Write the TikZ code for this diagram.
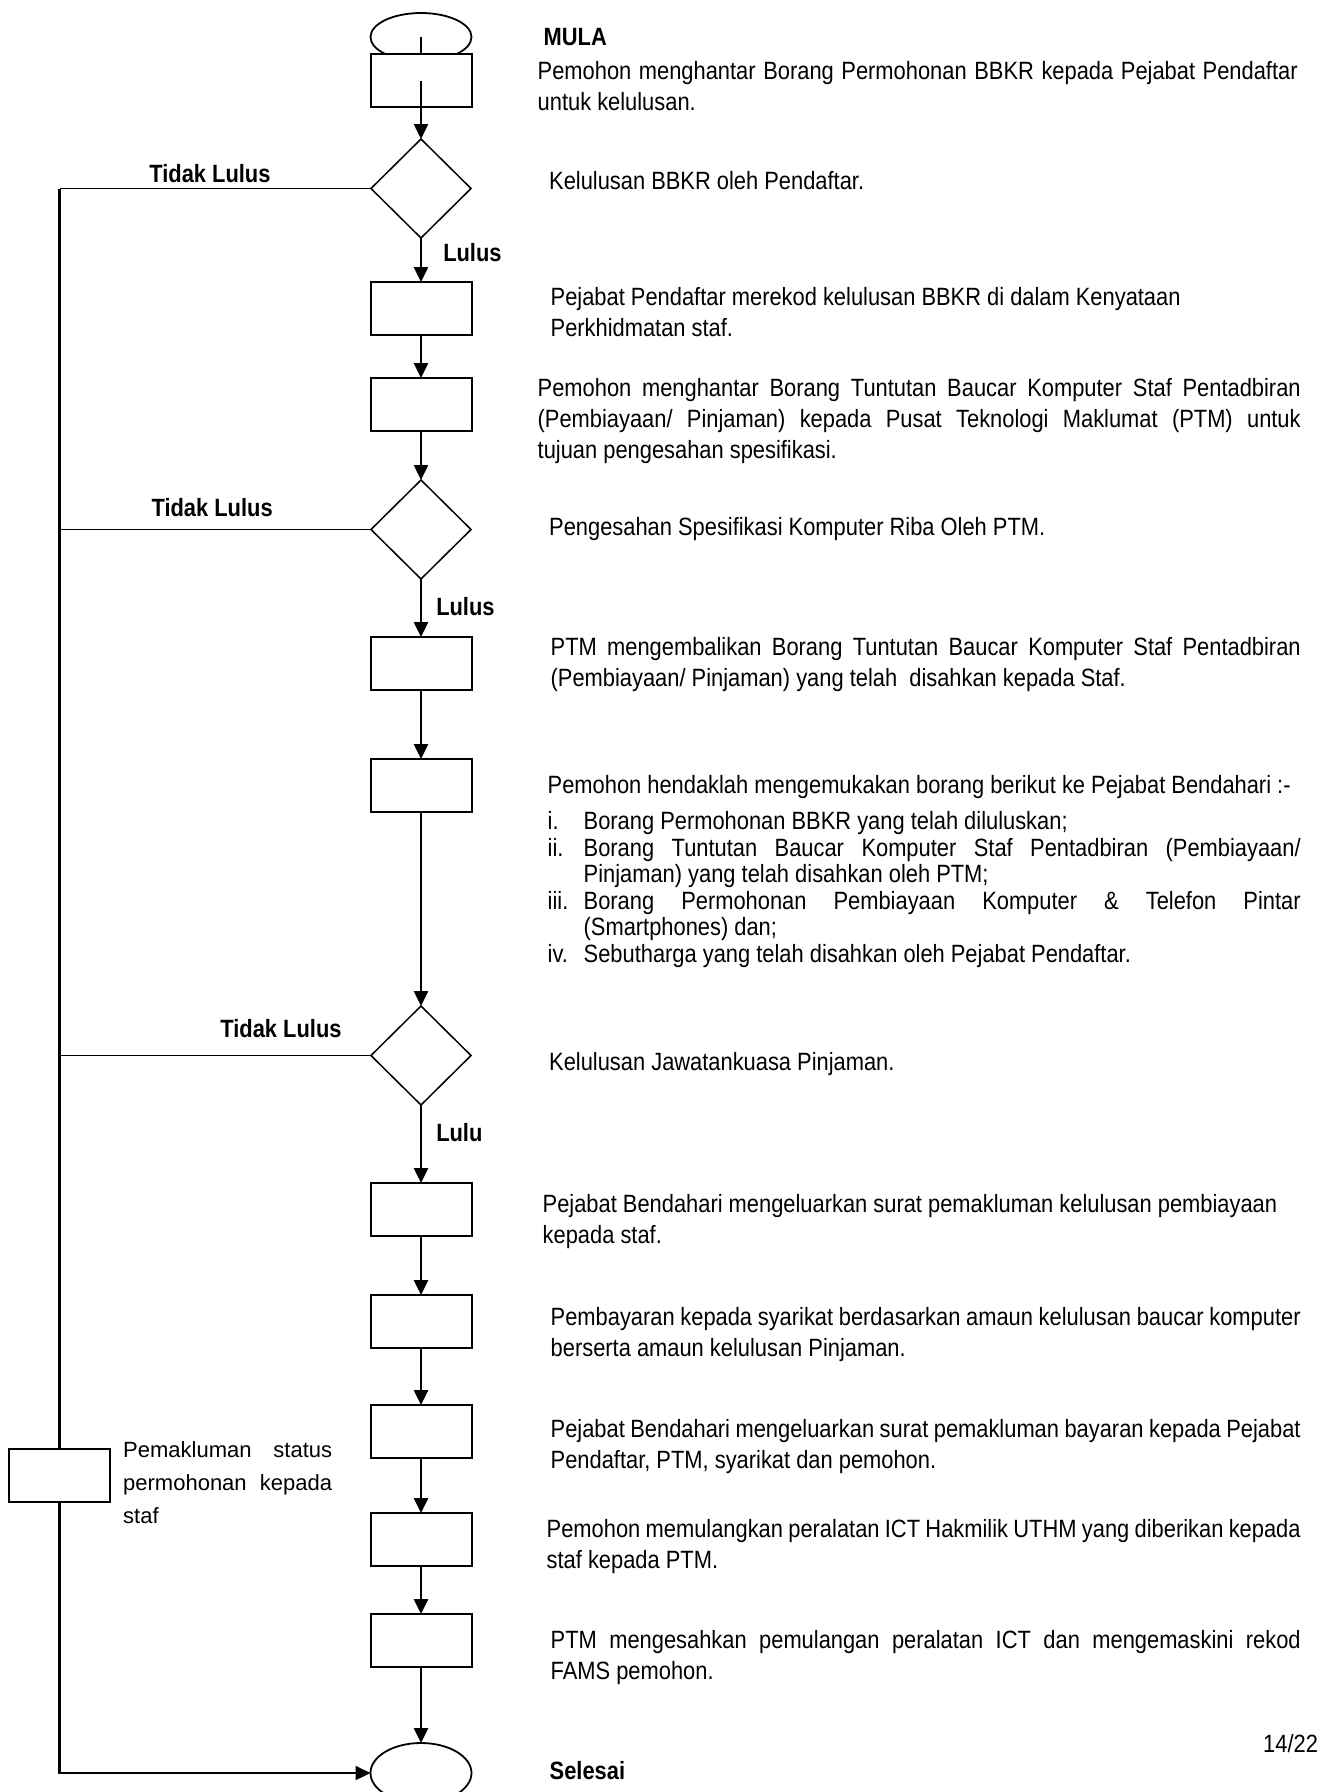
\documentclass[tikz,border=0pt]{standalone}
\usepackage{fontspec}
\usepackage{tikz}
\usetikzlibrary{positioning, shapes.geometric, arrows.meta}
\newfontfamily\flowfont[FakeStretch=0.875]{Liberation Sans}
\newfontfamily\plainfont{Liberation Sans}
\tikzset{StepBox/.style={%
    shape=rectangle,%
    draw=black,%
    fill=white,%
    minimum width=101pt,%
    minimum height=53pt,%
    line width=2pt,%
    inner sep=0pt,%
    outer sep=0pt,%
}}
\tikzset{DecisionNode/.style={%
    shape=diamond,%
    draw=black,%
    fill=white,%
    minimum width=100pt,%
    minimum height=99pt,%
    line width=1.5pt,%
    inner sep=0pt,%
    outer sep=0pt,%
}}
\tikzset{TerminalNode/.style={%
    shape=ellipse,%
    draw=black,%
    fill=white,%
    minimum width=101pt,%
    minimum height=48pt,%
    line width=1.8pt,%
    inner sep=0pt,%
    outer sep=0pt,%
}}
\tikzset{StepText/.style={%
    font=\flowfont\fontsize{25}{31}\selectfont,%
    align=left,%
    inner sep=0pt,%
}}
\tikzset{NoticeText/.style={%
    font=\plainfont\fontsize{22}{33}\selectfont,%
    align=left,%
    inner sep=0pt,%
}}
\tikzset{FlowLabel/.style={%
    font=\flowfont\bfseries\fontsize{25}{30}\selectfont,%
    inner sep=0pt,%
}}
\tikzset{FlowLine/.style={%
    line width=2.5pt,%
}}
\tikzset{FlowEdge/.style={%
    -{Triangle[length=15pt,width=14pt]},%
    line width=2.5pt,%
}}
\tikzset{RejectEdge/.style={%
    -,%
    line width=1.6pt,%
}}
\tikzset{SideLine/.style={%
    line width=2.2pt,%
}}
\NewDocumentCommand{\flowLabel}{m}{%
    \textbf{#1}%
}
\NewDocumentCommand{\jLine}{m m}{%
    \makebox[#1][s]{#2}%
}

\begin{document}
\begin{tikzpicture}[x=1pt, y=-1pt]
    \useasboundingbox (0,0) rectangle (1320,1792);

    % main column
    \node[TerminalNode] (mula) at (421,37) {};
    \node[StepBox, below=-7pt of mula] (b1) {};
    \node[DecisionNode, below=32pt of b1] (d1) {};
    \node[StepBox, below=44pt of d1] (b2) {};
    \node[StepBox, below=43pt of b2] (b3) {};
    \node[DecisionNode, below=49pt of b3] (d2) {};
    \node[StepBox, below=58pt of d2] (b4) {};
    \node[StepBox, below=69pt of b4] (b5) {};
    \node[DecisionNode, below=194pt of b5] (d3) {};
    \node[StepBox, below=78pt of d3] (b6) {};
    \node[StepBox, below=59pt of b6] (b7) {};
    \node[StepBox, below=57pt of b7] (b8) {};
    \node[StepBox, below=55pt of b8] (b9) {};
    \node[StepBox, below=48pt of b9] (b10) {};
    \node[TerminalNode, minimum height=60pt, below=76pt of b10] (selesai) {};
    \node[StepBox] (makluman) at (59.5,1475) {};

    \draw[FlowLine] (mula.center) -- (b1.north);
    \draw[FlowEdge] (b1.center) -- (d1);
    \path (d1) edge[FlowEdge] node[FlowLabel, anchor=west, pos=0.32, xshift=21pt]{\flowLabel{Lulus}} (b2);
    \path (b2) edge[FlowEdge] (b3);
    \path (b3) edge[FlowEdge] (d2);
    \path (d2) edge[FlowEdge] node[FlowLabel, anchor=west, pos=0.48, xshift=14pt]{\flowLabel{Lulus}} (b4);
    \path (b4) edge[FlowEdge] (b5);
    \path (b5) edge[FlowEdge] (d3);
    \path (d3) edge[FlowEdge] node[FlowLabel, anchor=west, pos=0.35, xshift=14pt]{\flowLabel{Lulu}} (b6);
    \path (b6) edge[FlowEdge] (b7);
    \path (b7) edge[FlowEdge] (b8);
    \path (b8) edge[FlowEdge] (b9);
    \path (b9) edge[FlowEdge] (b10);
    \path (b10) edge[FlowEdge] (selesai);

    % tidak lulus
    \draw[RejectEdge] (d1.west) -- node[FlowLabel, pos=0.517, yshift=15pt]{\flowLabel{Tidak Lulus}} (d1.west -| makluman.north);
    \draw[RejectEdge] (d2.west) -- node[FlowLabel, pos=0.51, yshift=22pt]{\flowLabel{Tidak Lulus}} (d2.west -| makluman.north);
    \draw[RejectEdge] (d3.west) -- node[FlowLabel, pos=0.289, yshift=27pt]{\flowLabel{Tidak Lulus}} (d3.west -| makluman.north);
    \draw[SideLine] (d1.west -| makluman.north) -- (makluman.north);
    \draw[SideLine, -{Triangle[length=15pt,width=14pt]}] (makluman.south) |- (selesai.west);

    % texts
    \node[StepText, right=72pt of mula] (tmula) {\flowLabel{MULA}};
    \node[StepText, right=66pt of b1, yshift=-6pt] (t1) {\jLine{760pt}{Pemohon menghantar Borang Permohonan BBKR kepada Pejabat Pendaftar}\\untuk kelulusan.};
    \node[StepText, right=78pt of d1, yshift=8pt] (td1) {Kelulusan BBKR oleh Pendaftar.};
    \node[StepText, right=79pt of b2, yshift=-3.5pt] (t2) {Pejabat Pendaftar merekod kelulusan BBKR di dalam Kenyataan\\Perkhidmatan staf.};
    \node[StepText, right=66pt of b3, yshift=-16.5pt] (t3) {\jLine{763pt}{Pemohon menghantar Borang Tuntutan Baucar Komputer Staf Pentadbiran}\\\jLine{763pt}{(Pembiayaan/ Pinjaman) kepada Pusat Teknologi Maklumat (PTM) untuk}\\tujuan pengesahan spesifikasi.};
    \node[StepText, right=78pt of d2] (td2) {Pengesahan Spesifikasi Komputer Riba Oleh PTM.};
    \node[StepText, right=79pt of b4, yshift=-1.5pt] (t4) {\jLine{750pt}{PTM mengembalikan Borang Tuntutan Baucar Komputer Staf Pentadbiran}\\(Pembiayaan/ Pinjaman) yang telah\ \ disahkan kepada Staf.};
    \node[StepText, right=76pt of b5, anchor=north west, yshift=10.5pt, font=\flowfont\fontsize{25}{26.5}\selectfont] (t5) {Pemohon hendaklah mengemukakan borang berikut ke Pejabat Bendahari :-\\[10pt]
        \makebox[36pt][l]{i.}Borang Permohonan BBKR yang telah diluluskan;\\
        \makebox[36pt][l]{ii.}\jLine{717pt}{Borang Tuntutan Baucar Komputer Staf Pentadbiran (Pembiayaan/}\\
        \hspace*{36pt}Pinjaman) yang telah disahkan oleh PTM;\\
        \makebox[36pt][l]{iii.}\jLine{717pt}{Borang Permohonan Pembiayaan Komputer \& Telefon Pintar}\\
        \hspace*{36pt}(Smartphones) dan;\\
        \makebox[36pt][l]{iv.}Sebutharga yang telah disahkan oleh Pejabat Pendaftar.};
    \node[StepText, right=78pt of d3, yshift=-9pt] (td3) {Kelulusan Jawatankuasa Pinjaman.};
    \node[StepText, right=71pt of b6, yshift=-12pt] (t6) {Pejabat Bendahari mengeluarkan surat pemakluman kelulusan pembiayaan\\kepada staf.};
    \node[StepText, right=79pt of b7, yshift=-13pt] (t7) {\jLine{750pt}{Pembayaran kepada syarikat berdasarkan amaun kelulusan baucar komputer}\\berserta amaun kelulusan Pinjaman.};
    \node[StepText, right=79pt of b8, yshift=-15pt] (t8) {\jLine{750pt}{Pejabat Bendahari mengeluarkan surat pemakluman bayaran kepada Pejabat}\\Pendaftar, PTM, syarikat dan pemohon.};
    \node[StepText, right=75pt of b9, yshift=-7.5pt] (t9) {\jLine{754pt}{Pemohon memulangkan peralatan ICT Hakmilik UTHM yang diberikan kepada}\\staf kepada PTM.};
    \node[StepText, right=79pt of b10, yshift=-17.5pt] (t10) {\jLine{750pt}{PTM mengesahkan pemulangan peralatan ICT dan mengemaskini rekod}\\FAMS pemohon.};
    \node[StepText, right=78pt of selesai, yshift=2.5pt] (tselesai) {\flowLabel{Selesai}};
    \node[StepText, anchor=west] (halaman) at (1263,1744) {14/22};
    \node[NoticeText, right=13pt of makluman.north east, anchor=north west, yshift=7.5pt] (tmakluman) {\jLine{209pt}{Pemakluman status}\\\jLine{209pt}{permohonan kepada}\\staf};
\end{tikzpicture}
\end{document}
